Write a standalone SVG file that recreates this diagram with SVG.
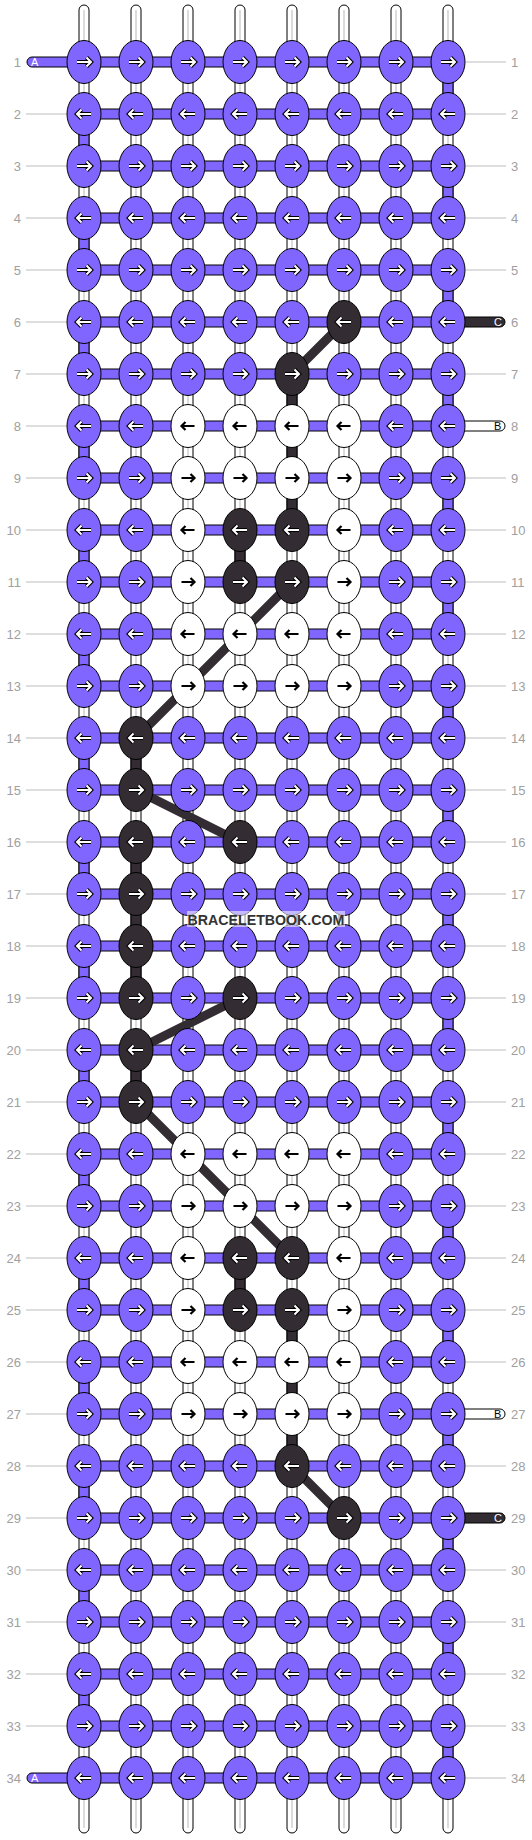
<svg xmlns="http://www.w3.org/2000/svg" xmlns:xlink="http://www.w3.org/1999/xlink" width="532" height="1840" viewBox="0 0 532 1840">
<style>
.s{fill:#fff;stroke:#000;stroke-width:1}
.g{stroke:#c4c4c4;stroke-width:1.2}
.vp{fill:#8066ff;stroke:#000}
.vd{fill:#332d33;stroke:#000}
.hl{fill:#8066ff;stroke:#000}
.p{fill:#8066ff;stroke:#000}
.d{fill:#332d33;stroke:#000}
.w{fill:#fff;stroke:#000}
.dg{stroke:#332d33;stroke-width:9;stroke-linecap:butt}
.ln{stroke:#bdbdbd;stroke-width:1}
.nl{font-family:"Liberation Sans",Arial,sans-serif;font-size:13px;fill:#a0a0a0;text-anchor:end}
.nr{font-family:"Liberation Sans",Arial,sans-serif;font-size:13px;fill:#a0a0a0}
.el{font-family:"Liberation Sans",Arial,sans-serif;font-size:11px}
</style>
<defs>
<ellipse id="k" cx="0" cy="0" rx="17" ry="21.5"/>
<g id="wr"><path d="M-7,0H6M2.5,-4.5L7,0L2.5,4.5" fill="none" stroke="#000" stroke-width="4.2"/><path d="M-7,0H6M2.5,-4.5L7,0L2.5,4.5" fill="none" stroke="#fff" stroke-width="2"/></g>
<g id="wl" transform="scale(-1,1)"><use href="#wr"/></g>
<g id="br"><path d="M-6.5,0H6M2.5,-4L6.5,0L2.5,4" fill="none" stroke="#000" stroke-width="2.2"/></g>
<g id="bl" transform="scale(-1,1)"><use href="#br"/></g>
</defs>
<rect width="532" height="1840" fill="#fff"/>
<g id="strands">
<rect class="s" x="79" y="5" width="10" height="1828" rx="5"/><line class="g" x1="84" y1="10" x2="84" y2="1828"/>
<rect class="s" x="131" y="5" width="10" height="1828" rx="5"/><line class="g" x1="136" y1="10" x2="136" y2="1828"/>
<rect class="s" x="183" y="5" width="10" height="1828" rx="5"/><line class="g" x1="188" y1="10" x2="188" y2="1828"/>
<rect class="s" x="235" y="5" width="10" height="1828" rx="5"/><line class="g" x1="240" y1="10" x2="240" y2="1828"/>
<rect class="s" x="287" y="5" width="10" height="1828" rx="5"/><line class="g" x1="292" y1="10" x2="292" y2="1828"/>
<rect class="s" x="339" y="5" width="10" height="1828" rx="5"/><line class="g" x1="344" y1="10" x2="344" y2="1828"/>
<rect class="s" x="391" y="5" width="10" height="1828" rx="5"/><line class="g" x1="396" y1="10" x2="396" y2="1828"/>
<rect class="s" x="443" y="5" width="10" height="1828" rx="5"/><line class="g" x1="448" y1="10" x2="448" y2="1828"/>
</g>
<g id="connectors">
<g id="vertical">
<rect class="vp" x="443" y="77" width="10" height="22"/>
<rect class="vp" x="79" y="129" width="10" height="22"/>
<rect class="vp" x="443" y="181" width="10" height="22"/>
<rect class="vp" x="79" y="233" width="10" height="22"/>
<rect class="vp" x="443" y="285" width="10" height="22"/>
<rect class="vp" x="79" y="337" width="10" height="22"/>
<rect class="vp" x="443" y="389" width="10" height="22"/>
<rect class="vp" x="79" y="441" width="10" height="22"/>
<rect class="vp" x="443" y="493" width="10" height="22"/>
<rect class="vp" x="79" y="545" width="10" height="22"/>
<rect class="vp" x="443" y="597" width="10" height="22"/>
<rect class="vp" x="79" y="649" width="10" height="22"/>
<rect class="vp" x="443" y="701" width="10" height="22"/>
<rect class="vp" x="79" y="753" width="10" height="22"/>
<rect class="vp" x="443" y="805" width="10" height="22"/>
<rect class="vp" x="79" y="857" width="10" height="22"/>
<rect class="vp" x="443" y="909" width="10" height="22"/>
<rect class="vp" x="79" y="961" width="10" height="22"/>
<rect class="vp" x="443" y="1013" width="10" height="22"/>
<rect class="vp" x="79" y="1065" width="10" height="22"/>
<rect class="vp" x="443" y="1117" width="10" height="22"/>
<rect class="vp" x="79" y="1169" width="10" height="22"/>
<rect class="vp" x="443" y="1221" width="10" height="22"/>
<rect class="vp" x="79" y="1273" width="10" height="22"/>
<rect class="vp" x="443" y="1325" width="10" height="22"/>
<rect class="vp" x="79" y="1377" width="10" height="22"/>
<rect class="vp" x="443" y="1429" width="10" height="22"/>
<rect class="vp" x="79" y="1481" width="10" height="22"/>
<rect class="vp" x="443" y="1533" width="10" height="22"/>
<rect class="vp" x="79" y="1585" width="10" height="22"/>
<rect class="vp" x="443" y="1637" width="10" height="22"/>
<rect class="vp" x="79" y="1689" width="10" height="22"/>
<rect class="vp" x="443" y="1741" width="10" height="22"/>
<rect class="vd" x="287" y="389" width="10" height="22"/>
<rect class="vd" x="287" y="441" width="10" height="22"/>
<rect class="vd" x="287" y="493" width="10" height="22"/>
<rect class="vd" x="235" y="545" width="10" height="22"/>
<rect class="vd" x="131" y="753" width="10" height="22"/>
<rect class="vd" x="131" y="857" width="10" height="22"/>
<rect class="vd" x="131" y="909" width="10" height="22"/>
<rect class="vd" x="131" y="961" width="10" height="22"/>
<rect class="vd" x="131" y="1065" width="10" height="22"/>
<rect class="vd" x="235" y="1273" width="10" height="22"/>
<rect class="vd" x="287" y="1325" width="10" height="22"/>
<rect class="vd" x="287" y="1377" width="10" height="22"/>
<rect class="vd" x="287" y="1429" width="10" height="22"/>
</g>
<g id="rows">
<rect class="hl" x="84" y="57" width="364" height="10"/>
<rect class="hl" x="84" y="109" width="364" height="10"/>
<rect class="hl" x="84" y="161" width="364" height="10"/>
<rect class="hl" x="84" y="213" width="364" height="10"/>
<rect class="hl" x="84" y="265" width="364" height="10"/>
<rect class="hl" x="84" y="317" width="364" height="10"/>
<rect class="hl" x="84" y="369" width="364" height="10"/>
<rect class="hl" x="84" y="421" width="364" height="10"/>
<rect class="hl" x="84" y="473" width="364" height="10"/>
<rect class="hl" x="84" y="525" width="364" height="10"/>
<rect class="hl" x="84" y="577" width="364" height="10"/>
<rect class="hl" x="84" y="629" width="364" height="10"/>
<rect class="hl" x="84" y="681" width="364" height="10"/>
<rect class="hl" x="84" y="733" width="364" height="10"/>
<rect class="hl" x="84" y="785" width="364" height="10"/>
<rect class="hl" x="84" y="837" width="364" height="10"/>
<rect class="hl" x="84" y="889" width="364" height="10"/>
<rect class="hl" x="84" y="941" width="364" height="10"/>
<rect class="hl" x="84" y="993" width="364" height="10"/>
<rect class="hl" x="84" y="1045" width="364" height="10"/>
<rect class="hl" x="84" y="1097" width="364" height="10"/>
<rect class="hl" x="84" y="1149" width="364" height="10"/>
<rect class="hl" x="84" y="1201" width="364" height="10"/>
<rect class="hl" x="84" y="1253" width="364" height="10"/>
<rect class="hl" x="84" y="1305" width="364" height="10"/>
<rect class="hl" x="84" y="1357" width="364" height="10"/>
<rect class="hl" x="84" y="1409" width="364" height="10"/>
<rect class="hl" x="84" y="1461" width="364" height="10"/>
<rect class="hl" x="84" y="1513" width="364" height="10"/>
<rect class="hl" x="84" y="1565" width="364" height="10"/>
<rect class="hl" x="84" y="1617" width="364" height="10"/>
<rect class="hl" x="84" y="1669" width="364" height="10"/>
<rect class="hl" x="84" y="1721" width="364" height="10"/>
<rect class="hl" x="84" y="1773" width="364" height="10"/>
</g>
<g id="labellines">
<line class="ln" x1="466" y1="62" x2="506" y2="62"/>
<line class="ln" x1="26" y1="114" x2="67" y2="114"/><line class="ln" x1="466" y1="114" x2="506" y2="114"/>
<line class="ln" x1="26" y1="166" x2="67" y2="166"/><line class="ln" x1="466" y1="166" x2="506" y2="166"/>
<line class="ln" x1="26" y1="218" x2="67" y2="218"/><line class="ln" x1="466" y1="218" x2="506" y2="218"/>
<line class="ln" x1="26" y1="270" x2="67" y2="270"/><line class="ln" x1="466" y1="270" x2="506" y2="270"/>
<line class="ln" x1="26" y1="322" x2="67" y2="322"/>
<line class="ln" x1="26" y1="374" x2="67" y2="374"/><line class="ln" x1="466" y1="374" x2="506" y2="374"/>
<line class="ln" x1="26" y1="426" x2="67" y2="426"/>
<line class="ln" x1="26" y1="478" x2="67" y2="478"/><line class="ln" x1="466" y1="478" x2="506" y2="478"/>
<line class="ln" x1="26" y1="530" x2="67" y2="530"/><line class="ln" x1="466" y1="530" x2="506" y2="530"/>
<line class="ln" x1="26" y1="582" x2="67" y2="582"/><line class="ln" x1="466" y1="582" x2="506" y2="582"/>
<line class="ln" x1="26" y1="634" x2="67" y2="634"/><line class="ln" x1="466" y1="634" x2="506" y2="634"/>
<line class="ln" x1="26" y1="686" x2="67" y2="686"/><line class="ln" x1="466" y1="686" x2="506" y2="686"/>
<line class="ln" x1="26" y1="738" x2="67" y2="738"/><line class="ln" x1="466" y1="738" x2="506" y2="738"/>
<line class="ln" x1="26" y1="790" x2="67" y2="790"/><line class="ln" x1="466" y1="790" x2="506" y2="790"/>
<line class="ln" x1="26" y1="842" x2="67" y2="842"/><line class="ln" x1="466" y1="842" x2="506" y2="842"/>
<line class="ln" x1="26" y1="894" x2="67" y2="894"/><line class="ln" x1="466" y1="894" x2="506" y2="894"/>
<line class="ln" x1="26" y1="946" x2="67" y2="946"/><line class="ln" x1="466" y1="946" x2="506" y2="946"/>
<line class="ln" x1="26" y1="998" x2="67" y2="998"/><line class="ln" x1="466" y1="998" x2="506" y2="998"/>
<line class="ln" x1="26" y1="1050" x2="67" y2="1050"/><line class="ln" x1="466" y1="1050" x2="506" y2="1050"/>
<line class="ln" x1="26" y1="1102" x2="67" y2="1102"/><line class="ln" x1="466" y1="1102" x2="506" y2="1102"/>
<line class="ln" x1="26" y1="1154" x2="67" y2="1154"/><line class="ln" x1="466" y1="1154" x2="506" y2="1154"/>
<line class="ln" x1="26" y1="1206" x2="67" y2="1206"/><line class="ln" x1="466" y1="1206" x2="506" y2="1206"/>
<line class="ln" x1="26" y1="1258" x2="67" y2="1258"/><line class="ln" x1="466" y1="1258" x2="506" y2="1258"/>
<line class="ln" x1="26" y1="1310" x2="67" y2="1310"/><line class="ln" x1="466" y1="1310" x2="506" y2="1310"/>
<line class="ln" x1="26" y1="1362" x2="67" y2="1362"/><line class="ln" x1="466" y1="1362" x2="506" y2="1362"/>
<line class="ln" x1="26" y1="1414" x2="67" y2="1414"/>
<line class="ln" x1="26" y1="1466" x2="67" y2="1466"/><line class="ln" x1="466" y1="1466" x2="506" y2="1466"/>
<line class="ln" x1="26" y1="1518" x2="67" y2="1518"/>
<line class="ln" x1="26" y1="1570" x2="67" y2="1570"/><line class="ln" x1="466" y1="1570" x2="506" y2="1570"/>
<line class="ln" x1="26" y1="1622" x2="67" y2="1622"/><line class="ln" x1="466" y1="1622" x2="506" y2="1622"/>
<line class="ln" x1="26" y1="1674" x2="67" y2="1674"/><line class="ln" x1="466" y1="1674" x2="506" y2="1674"/>
<line class="ln" x1="26" y1="1726" x2="67" y2="1726"/><line class="ln" x1="466" y1="1726" x2="506" y2="1726"/>
<line class="ln" x1="466" y1="1778" x2="506" y2="1778"/>
</g>
<g id="ends">
<path d="M70,57H32A5,5 0 0 0 32,67H70Z" fill="#8066ff" stroke="#000"/><text class="el" x="31" y="66" fill="#fff">A</text>
<path d="M70,1773H32A5,5 0 0 0 32,1783H70Z" fill="#8066ff" stroke="#000"/><text class="el" x="31" y="1782" fill="#fff">A</text>
<path d="M462,317H500A5,5 0 0 1 500,327H462Z" fill="#332d33" stroke="#000"/><text class="el" x="494" y="326" fill="#fff">C</text>
<path d="M462,421H500A5,5 0 0 1 500,431H462Z" fill="#fff" stroke="#000"/><text class="el" x="494" y="430" fill="#000">B</text>
<path d="M462,1409H500A5,5 0 0 1 500,1419H462Z" fill="#fff" stroke="#000"/><text class="el" x="494" y="1418" fill="#000">B</text>
<path d="M462,1513H500A5,5 0 0 1 500,1523H462Z" fill="#332d33" stroke="#000"/><text class="el" x="494" y="1522" fill="#fff">C</text>
</g>
<g id="diagonals">
<line class="dg" x1="344" y1="322" x2="292" y2="374"/>
<line class="dg" x1="292" y1="582" x2="136" y2="738"/>
<line class="dg" x1="136" y1="790" x2="240" y2="842"/>
<line class="dg" x1="240" y1="998" x2="136" y2="1050"/>
<line class="dg" x1="136" y1="1102" x2="292" y2="1258"/>
<line class="dg" x1="292" y1="1466" x2="344" y2="1518"/>
</g>
</g>
<g id="knots">
<g id="r1c1"><use href="#k" class="p" x="84" y="62"/><use href="#wr" x="84" y="62"/></g>
<g id="r1c2"><use href="#k" class="p" x="136" y="62"/><use href="#wr" x="136" y="62"/></g>
<g id="r1c3"><use href="#k" class="p" x="188" y="62"/><use href="#wr" x="188" y="62"/></g>
<g id="r1c4"><use href="#k" class="p" x="240" y="62"/><use href="#wr" x="240" y="62"/></g>
<g id="r1c5"><use href="#k" class="p" x="292" y="62"/><use href="#wr" x="292" y="62"/></g>
<g id="r1c6"><use href="#k" class="p" x="344" y="62"/><use href="#wr" x="344" y="62"/></g>
<g id="r1c7"><use href="#k" class="p" x="396" y="62"/><use href="#wr" x="396" y="62"/></g>
<g id="r1c8"><use href="#k" class="p" x="448" y="62"/><use href="#wr" x="448" y="62"/></g>
<g id="r2c1"><use href="#k" class="p" x="84" y="114"/><use href="#wl" x="84" y="114"/></g>
<g id="r2c2"><use href="#k" class="p" x="136" y="114"/><use href="#wl" x="136" y="114"/></g>
<g id="r2c3"><use href="#k" class="p" x="188" y="114"/><use href="#wl" x="188" y="114"/></g>
<g id="r2c4"><use href="#k" class="p" x="240" y="114"/><use href="#wl" x="240" y="114"/></g>
<g id="r2c5"><use href="#k" class="p" x="292" y="114"/><use href="#wl" x="292" y="114"/></g>
<g id="r2c6"><use href="#k" class="p" x="344" y="114"/><use href="#wl" x="344" y="114"/></g>
<g id="r2c7"><use href="#k" class="p" x="396" y="114"/><use href="#wl" x="396" y="114"/></g>
<g id="r2c8"><use href="#k" class="p" x="448" y="114"/><use href="#wl" x="448" y="114"/></g>
<g id="r3c1"><use href="#k" class="p" x="84" y="166"/><use href="#wr" x="84" y="166"/></g>
<g id="r3c2"><use href="#k" class="p" x="136" y="166"/><use href="#wr" x="136" y="166"/></g>
<g id="r3c3"><use href="#k" class="p" x="188" y="166"/><use href="#wr" x="188" y="166"/></g>
<g id="r3c4"><use href="#k" class="p" x="240" y="166"/><use href="#wr" x="240" y="166"/></g>
<g id="r3c5"><use href="#k" class="p" x="292" y="166"/><use href="#wr" x="292" y="166"/></g>
<g id="r3c6"><use href="#k" class="p" x="344" y="166"/><use href="#wr" x="344" y="166"/></g>
<g id="r3c7"><use href="#k" class="p" x="396" y="166"/><use href="#wr" x="396" y="166"/></g>
<g id="r3c8"><use href="#k" class="p" x="448" y="166"/><use href="#wr" x="448" y="166"/></g>
<g id="r4c1"><use href="#k" class="p" x="84" y="218"/><use href="#wl" x="84" y="218"/></g>
<g id="r4c2"><use href="#k" class="p" x="136" y="218"/><use href="#wl" x="136" y="218"/></g>
<g id="r4c3"><use href="#k" class="p" x="188" y="218"/><use href="#wl" x="188" y="218"/></g>
<g id="r4c4"><use href="#k" class="p" x="240" y="218"/><use href="#wl" x="240" y="218"/></g>
<g id="r4c5"><use href="#k" class="p" x="292" y="218"/><use href="#wl" x="292" y="218"/></g>
<g id="r4c6"><use href="#k" class="p" x="344" y="218"/><use href="#wl" x="344" y="218"/></g>
<g id="r4c7"><use href="#k" class="p" x="396" y="218"/><use href="#wl" x="396" y="218"/></g>
<g id="r4c8"><use href="#k" class="p" x="448" y="218"/><use href="#wl" x="448" y="218"/></g>
<g id="r5c1"><use href="#k" class="p" x="84" y="270"/><use href="#wr" x="84" y="270"/></g>
<g id="r5c2"><use href="#k" class="p" x="136" y="270"/><use href="#wr" x="136" y="270"/></g>
<g id="r5c3"><use href="#k" class="p" x="188" y="270"/><use href="#wr" x="188" y="270"/></g>
<g id="r5c4"><use href="#k" class="p" x="240" y="270"/><use href="#wr" x="240" y="270"/></g>
<g id="r5c5"><use href="#k" class="p" x="292" y="270"/><use href="#wr" x="292" y="270"/></g>
<g id="r5c6"><use href="#k" class="p" x="344" y="270"/><use href="#wr" x="344" y="270"/></g>
<g id="r5c7"><use href="#k" class="p" x="396" y="270"/><use href="#wr" x="396" y="270"/></g>
<g id="r5c8"><use href="#k" class="p" x="448" y="270"/><use href="#wr" x="448" y="270"/></g>
<g id="r6c1"><use href="#k" class="p" x="84" y="322"/><use href="#wl" x="84" y="322"/></g>
<g id="r6c2"><use href="#k" class="p" x="136" y="322"/><use href="#wl" x="136" y="322"/></g>
<g id="r6c3"><use href="#k" class="p" x="188" y="322"/><use href="#wl" x="188" y="322"/></g>
<g id="r6c4"><use href="#k" class="p" x="240" y="322"/><use href="#wl" x="240" y="322"/></g>
<g id="r6c5"><use href="#k" class="p" x="292" y="322"/><use href="#wl" x="292" y="322"/></g>
<g id="r6c6"><use href="#k" class="d" x="344" y="322"/><use href="#wl" x="344" y="322"/></g>
<g id="r6c7"><use href="#k" class="p" x="396" y="322"/><use href="#wl" x="396" y="322"/></g>
<g id="r6c8"><use href="#k" class="p" x="448" y="322"/><use href="#wl" x="448" y="322"/></g>
<g id="r7c1"><use href="#k" class="p" x="84" y="374"/><use href="#wr" x="84" y="374"/></g>
<g id="r7c2"><use href="#k" class="p" x="136" y="374"/><use href="#wr" x="136" y="374"/></g>
<g id="r7c3"><use href="#k" class="p" x="188" y="374"/><use href="#wr" x="188" y="374"/></g>
<g id="r7c4"><use href="#k" class="p" x="240" y="374"/><use href="#wr" x="240" y="374"/></g>
<g id="r7c5"><use href="#k" class="d" x="292" y="374"/><use href="#wr" x="292" y="374"/></g>
<g id="r7c6"><use href="#k" class="p" x="344" y="374"/><use href="#wr" x="344" y="374"/></g>
<g id="r7c7"><use href="#k" class="p" x="396" y="374"/><use href="#wr" x="396" y="374"/></g>
<g id="r7c8"><use href="#k" class="p" x="448" y="374"/><use href="#wr" x="448" y="374"/></g>
<g id="r8c1"><use href="#k" class="p" x="84" y="426"/><use href="#wl" x="84" y="426"/></g>
<g id="r8c2"><use href="#k" class="p" x="136" y="426"/><use href="#wl" x="136" y="426"/></g>
<g id="r8c3"><use href="#k" class="w" x="188" y="426"/><use href="#bl" x="188" y="426"/></g>
<g id="r8c4"><use href="#k" class="w" x="240" y="426"/><use href="#bl" x="240" y="426"/></g>
<g id="r8c5"><use href="#k" class="w" x="292" y="426"/><use href="#bl" x="292" y="426"/></g>
<g id="r8c6"><use href="#k" class="w" x="344" y="426"/><use href="#bl" x="344" y="426"/></g>
<g id="r8c7"><use href="#k" class="p" x="396" y="426"/><use href="#wl" x="396" y="426"/></g>
<g id="r8c8"><use href="#k" class="p" x="448" y="426"/><use href="#wl" x="448" y="426"/></g>
<g id="r9c1"><use href="#k" class="p" x="84" y="478"/><use href="#wr" x="84" y="478"/></g>
<g id="r9c2"><use href="#k" class="p" x="136" y="478"/><use href="#wr" x="136" y="478"/></g>
<g id="r9c3"><use href="#k" class="w" x="188" y="478"/><use href="#br" x="188" y="478"/></g>
<g id="r9c4"><use href="#k" class="w" x="240" y="478"/><use href="#br" x="240" y="478"/></g>
<g id="r9c5"><use href="#k" class="w" x="292" y="478"/><use href="#br" x="292" y="478"/></g>
<g id="r9c6"><use href="#k" class="w" x="344" y="478"/><use href="#br" x="344" y="478"/></g>
<g id="r9c7"><use href="#k" class="p" x="396" y="478"/><use href="#wr" x="396" y="478"/></g>
<g id="r9c8"><use href="#k" class="p" x="448" y="478"/><use href="#wr" x="448" y="478"/></g>
<g id="r10c1"><use href="#k" class="p" x="84" y="530"/><use href="#wl" x="84" y="530"/></g>
<g id="r10c2"><use href="#k" class="p" x="136" y="530"/><use href="#wl" x="136" y="530"/></g>
<g id="r10c3"><use href="#k" class="w" x="188" y="530"/><use href="#bl" x="188" y="530"/></g>
<g id="r10c4"><use href="#k" class="d" x="240" y="530"/><use href="#wl" x="240" y="530"/></g>
<g id="r10c5"><use href="#k" class="d" x="292" y="530"/><use href="#wl" x="292" y="530"/></g>
<g id="r10c6"><use href="#k" class="w" x="344" y="530"/><use href="#bl" x="344" y="530"/></g>
<g id="r10c7"><use href="#k" class="p" x="396" y="530"/><use href="#wl" x="396" y="530"/></g>
<g id="r10c8"><use href="#k" class="p" x="448" y="530"/><use href="#wl" x="448" y="530"/></g>
<g id="r11c1"><use href="#k" class="p" x="84" y="582"/><use href="#wr" x="84" y="582"/></g>
<g id="r11c2"><use href="#k" class="p" x="136" y="582"/><use href="#wr" x="136" y="582"/></g>
<g id="r11c3"><use href="#k" class="w" x="188" y="582"/><use href="#br" x="188" y="582"/></g>
<g id="r11c4"><use href="#k" class="d" x="240" y="582"/><use href="#wr" x="240" y="582"/></g>
<g id="r11c5"><use href="#k" class="d" x="292" y="582"/><use href="#wr" x="292" y="582"/></g>
<g id="r11c6"><use href="#k" class="w" x="344" y="582"/><use href="#br" x="344" y="582"/></g>
<g id="r11c7"><use href="#k" class="p" x="396" y="582"/><use href="#wr" x="396" y="582"/></g>
<g id="r11c8"><use href="#k" class="p" x="448" y="582"/><use href="#wr" x="448" y="582"/></g>
<g id="r12c1"><use href="#k" class="p" x="84" y="634"/><use href="#wl" x="84" y="634"/></g>
<g id="r12c2"><use href="#k" class="p" x="136" y="634"/><use href="#wl" x="136" y="634"/></g>
<g id="r12c3"><use href="#k" class="w" x="188" y="634"/><use href="#bl" x="188" y="634"/></g>
<g id="r12c4"><use href="#k" class="w" x="240" y="634"/><use href="#bl" x="240" y="634"/></g>
<g id="r12c5"><use href="#k" class="w" x="292" y="634"/><use href="#bl" x="292" y="634"/></g>
<g id="r12c6"><use href="#k" class="w" x="344" y="634"/><use href="#bl" x="344" y="634"/></g>
<g id="r12c7"><use href="#k" class="p" x="396" y="634"/><use href="#wl" x="396" y="634"/></g>
<g id="r12c8"><use href="#k" class="p" x="448" y="634"/><use href="#wl" x="448" y="634"/></g>
<g id="r13c1"><use href="#k" class="p" x="84" y="686"/><use href="#wr" x="84" y="686"/></g>
<g id="r13c2"><use href="#k" class="p" x="136" y="686"/><use href="#wr" x="136" y="686"/></g>
<g id="r13c3"><use href="#k" class="w" x="188" y="686"/><use href="#br" x="188" y="686"/></g>
<g id="r13c4"><use href="#k" class="w" x="240" y="686"/><use href="#br" x="240" y="686"/></g>
<g id="r13c5"><use href="#k" class="w" x="292" y="686"/><use href="#br" x="292" y="686"/></g>
<g id="r13c6"><use href="#k" class="w" x="344" y="686"/><use href="#br" x="344" y="686"/></g>
<g id="r13c7"><use href="#k" class="p" x="396" y="686"/><use href="#wr" x="396" y="686"/></g>
<g id="r13c8"><use href="#k" class="p" x="448" y="686"/><use href="#wr" x="448" y="686"/></g>
<g id="r14c1"><use href="#k" class="p" x="84" y="738"/><use href="#wl" x="84" y="738"/></g>
<g id="r14c2"><use href="#k" class="d" x="136" y="738"/><use href="#wl" x="136" y="738"/></g>
<g id="r14c3"><use href="#k" class="p" x="188" y="738"/><use href="#wl" x="188" y="738"/></g>
<g id="r14c4"><use href="#k" class="p" x="240" y="738"/><use href="#wl" x="240" y="738"/></g>
<g id="r14c5"><use href="#k" class="p" x="292" y="738"/><use href="#wl" x="292" y="738"/></g>
<g id="r14c6"><use href="#k" class="p" x="344" y="738"/><use href="#wl" x="344" y="738"/></g>
<g id="r14c7"><use href="#k" class="p" x="396" y="738"/><use href="#wl" x="396" y="738"/></g>
<g id="r14c8"><use href="#k" class="p" x="448" y="738"/><use href="#wl" x="448" y="738"/></g>
<g id="r15c1"><use href="#k" class="p" x="84" y="790"/><use href="#wr" x="84" y="790"/></g>
<g id="r15c2"><use href="#k" class="d" x="136" y="790"/><use href="#wr" x="136" y="790"/></g>
<g id="r15c3"><use href="#k" class="p" x="188" y="790"/><use href="#wr" x="188" y="790"/></g>
<g id="r15c4"><use href="#k" class="p" x="240" y="790"/><use href="#wr" x="240" y="790"/></g>
<g id="r15c5"><use href="#k" class="p" x="292" y="790"/><use href="#wr" x="292" y="790"/></g>
<g id="r15c6"><use href="#k" class="p" x="344" y="790"/><use href="#wr" x="344" y="790"/></g>
<g id="r15c7"><use href="#k" class="p" x="396" y="790"/><use href="#wr" x="396" y="790"/></g>
<g id="r15c8"><use href="#k" class="p" x="448" y="790"/><use href="#wr" x="448" y="790"/></g>
<g id="r16c1"><use href="#k" class="p" x="84" y="842"/><use href="#wl" x="84" y="842"/></g>
<g id="r16c2"><use href="#k" class="d" x="136" y="842"/><use href="#wl" x="136" y="842"/></g>
<g id="r16c3"><use href="#k" class="p" x="188" y="842"/><use href="#wl" x="188" y="842"/></g>
<g id="r16c4"><use href="#k" class="d" x="240" y="842"/><use href="#wl" x="240" y="842"/></g>
<g id="r16c5"><use href="#k" class="p" x="292" y="842"/><use href="#wl" x="292" y="842"/></g>
<g id="r16c6"><use href="#k" class="p" x="344" y="842"/><use href="#wl" x="344" y="842"/></g>
<g id="r16c7"><use href="#k" class="p" x="396" y="842"/><use href="#wl" x="396" y="842"/></g>
<g id="r16c8"><use href="#k" class="p" x="448" y="842"/><use href="#wl" x="448" y="842"/></g>
<g id="r17c1"><use href="#k" class="p" x="84" y="894"/><use href="#wr" x="84" y="894"/></g>
<g id="r17c2"><use href="#k" class="d" x="136" y="894"/><use href="#wr" x="136" y="894"/></g>
<g id="r17c3"><use href="#k" class="p" x="188" y="894"/><use href="#wr" x="188" y="894"/></g>
<g id="r17c4"><use href="#k" class="p" x="240" y="894"/><use href="#wr" x="240" y="894"/></g>
<g id="r17c5"><use href="#k" class="p" x="292" y="894"/><use href="#wr" x="292" y="894"/></g>
<g id="r17c6"><use href="#k" class="p" x="344" y="894"/><use href="#wr" x="344" y="894"/></g>
<g id="r17c7"><use href="#k" class="p" x="396" y="894"/><use href="#wr" x="396" y="894"/></g>
<g id="r17c8"><use href="#k" class="p" x="448" y="894"/><use href="#wr" x="448" y="894"/></g>
<g id="r18c1"><use href="#k" class="p" x="84" y="946"/><use href="#wl" x="84" y="946"/></g>
<g id="r18c2"><use href="#k" class="d" x="136" y="946"/><use href="#wl" x="136" y="946"/></g>
<g id="r18c3"><use href="#k" class="p" x="188" y="946"/><use href="#wl" x="188" y="946"/></g>
<g id="r18c4"><use href="#k" class="p" x="240" y="946"/><use href="#wl" x="240" y="946"/></g>
<g id="r18c5"><use href="#k" class="p" x="292" y="946"/><use href="#wl" x="292" y="946"/></g>
<g id="r18c6"><use href="#k" class="p" x="344" y="946"/><use href="#wl" x="344" y="946"/></g>
<g id="r18c7"><use href="#k" class="p" x="396" y="946"/><use href="#wl" x="396" y="946"/></g>
<g id="r18c8"><use href="#k" class="p" x="448" y="946"/><use href="#wl" x="448" y="946"/></g>
<g id="r19c1"><use href="#k" class="p" x="84" y="998"/><use href="#wr" x="84" y="998"/></g>
<g id="r19c2"><use href="#k" class="d" x="136" y="998"/><use href="#wr" x="136" y="998"/></g>
<g id="r19c3"><use href="#k" class="p" x="188" y="998"/><use href="#wr" x="188" y="998"/></g>
<g id="r19c4"><use href="#k" class="d" x="240" y="998"/><use href="#wr" x="240" y="998"/></g>
<g id="r19c5"><use href="#k" class="p" x="292" y="998"/><use href="#wr" x="292" y="998"/></g>
<g id="r19c6"><use href="#k" class="p" x="344" y="998"/><use href="#wr" x="344" y="998"/></g>
<g id="r19c7"><use href="#k" class="p" x="396" y="998"/><use href="#wr" x="396" y="998"/></g>
<g id="r19c8"><use href="#k" class="p" x="448" y="998"/><use href="#wr" x="448" y="998"/></g>
<g id="r20c1"><use href="#k" class="p" x="84" y="1050"/><use href="#wl" x="84" y="1050"/></g>
<g id="r20c2"><use href="#k" class="d" x="136" y="1050"/><use href="#wl" x="136" y="1050"/></g>
<g id="r20c3"><use href="#k" class="p" x="188" y="1050"/><use href="#wl" x="188" y="1050"/></g>
<g id="r20c4"><use href="#k" class="p" x="240" y="1050"/><use href="#wl" x="240" y="1050"/></g>
<g id="r20c5"><use href="#k" class="p" x="292" y="1050"/><use href="#wl" x="292" y="1050"/></g>
<g id="r20c6"><use href="#k" class="p" x="344" y="1050"/><use href="#wl" x="344" y="1050"/></g>
<g id="r20c7"><use href="#k" class="p" x="396" y="1050"/><use href="#wl" x="396" y="1050"/></g>
<g id="r20c8"><use href="#k" class="p" x="448" y="1050"/><use href="#wl" x="448" y="1050"/></g>
<g id="r21c1"><use href="#k" class="p" x="84" y="1102"/><use href="#wr" x="84" y="1102"/></g>
<g id="r21c2"><use href="#k" class="d" x="136" y="1102"/><use href="#wr" x="136" y="1102"/></g>
<g id="r21c3"><use href="#k" class="p" x="188" y="1102"/><use href="#wr" x="188" y="1102"/></g>
<g id="r21c4"><use href="#k" class="p" x="240" y="1102"/><use href="#wr" x="240" y="1102"/></g>
<g id="r21c5"><use href="#k" class="p" x="292" y="1102"/><use href="#wr" x="292" y="1102"/></g>
<g id="r21c6"><use href="#k" class="p" x="344" y="1102"/><use href="#wr" x="344" y="1102"/></g>
<g id="r21c7"><use href="#k" class="p" x="396" y="1102"/><use href="#wr" x="396" y="1102"/></g>
<g id="r21c8"><use href="#k" class="p" x="448" y="1102"/><use href="#wr" x="448" y="1102"/></g>
<g id="r22c1"><use href="#k" class="p" x="84" y="1154"/><use href="#wl" x="84" y="1154"/></g>
<g id="r22c2"><use href="#k" class="p" x="136" y="1154"/><use href="#wl" x="136" y="1154"/></g>
<g id="r22c3"><use href="#k" class="w" x="188" y="1154"/><use href="#bl" x="188" y="1154"/></g>
<g id="r22c4"><use href="#k" class="w" x="240" y="1154"/><use href="#bl" x="240" y="1154"/></g>
<g id="r22c5"><use href="#k" class="w" x="292" y="1154"/><use href="#bl" x="292" y="1154"/></g>
<g id="r22c6"><use href="#k" class="w" x="344" y="1154"/><use href="#bl" x="344" y="1154"/></g>
<g id="r22c7"><use href="#k" class="p" x="396" y="1154"/><use href="#wl" x="396" y="1154"/></g>
<g id="r22c8"><use href="#k" class="p" x="448" y="1154"/><use href="#wl" x="448" y="1154"/></g>
<g id="r23c1"><use href="#k" class="p" x="84" y="1206"/><use href="#wr" x="84" y="1206"/></g>
<g id="r23c2"><use href="#k" class="p" x="136" y="1206"/><use href="#wr" x="136" y="1206"/></g>
<g id="r23c3"><use href="#k" class="w" x="188" y="1206"/><use href="#br" x="188" y="1206"/></g>
<g id="r23c4"><use href="#k" class="w" x="240" y="1206"/><use href="#br" x="240" y="1206"/></g>
<g id="r23c5"><use href="#k" class="w" x="292" y="1206"/><use href="#br" x="292" y="1206"/></g>
<g id="r23c6"><use href="#k" class="w" x="344" y="1206"/><use href="#br" x="344" y="1206"/></g>
<g id="r23c7"><use href="#k" class="p" x="396" y="1206"/><use href="#wr" x="396" y="1206"/></g>
<g id="r23c8"><use href="#k" class="p" x="448" y="1206"/><use href="#wr" x="448" y="1206"/></g>
<g id="r24c1"><use href="#k" class="p" x="84" y="1258"/><use href="#wl" x="84" y="1258"/></g>
<g id="r24c2"><use href="#k" class="p" x="136" y="1258"/><use href="#wl" x="136" y="1258"/></g>
<g id="r24c3"><use href="#k" class="w" x="188" y="1258"/><use href="#bl" x="188" y="1258"/></g>
<g id="r24c4"><use href="#k" class="d" x="240" y="1258"/><use href="#wl" x="240" y="1258"/></g>
<g id="r24c5"><use href="#k" class="d" x="292" y="1258"/><use href="#wl" x="292" y="1258"/></g>
<g id="r24c6"><use href="#k" class="w" x="344" y="1258"/><use href="#bl" x="344" y="1258"/></g>
<g id="r24c7"><use href="#k" class="p" x="396" y="1258"/><use href="#wl" x="396" y="1258"/></g>
<g id="r24c8"><use href="#k" class="p" x="448" y="1258"/><use href="#wl" x="448" y="1258"/></g>
<g id="r25c1"><use href="#k" class="p" x="84" y="1310"/><use href="#wr" x="84" y="1310"/></g>
<g id="r25c2"><use href="#k" class="p" x="136" y="1310"/><use href="#wr" x="136" y="1310"/></g>
<g id="r25c3"><use href="#k" class="w" x="188" y="1310"/><use href="#br" x="188" y="1310"/></g>
<g id="r25c4"><use href="#k" class="d" x="240" y="1310"/><use href="#wr" x="240" y="1310"/></g>
<g id="r25c5"><use href="#k" class="d" x="292" y="1310"/><use href="#wr" x="292" y="1310"/></g>
<g id="r25c6"><use href="#k" class="w" x="344" y="1310"/><use href="#br" x="344" y="1310"/></g>
<g id="r25c7"><use href="#k" class="p" x="396" y="1310"/><use href="#wr" x="396" y="1310"/></g>
<g id="r25c8"><use href="#k" class="p" x="448" y="1310"/><use href="#wr" x="448" y="1310"/></g>
<g id="r26c1"><use href="#k" class="p" x="84" y="1362"/><use href="#wl" x="84" y="1362"/></g>
<g id="r26c2"><use href="#k" class="p" x="136" y="1362"/><use href="#wl" x="136" y="1362"/></g>
<g id="r26c3"><use href="#k" class="w" x="188" y="1362"/><use href="#bl" x="188" y="1362"/></g>
<g id="r26c4"><use href="#k" class="w" x="240" y="1362"/><use href="#bl" x="240" y="1362"/></g>
<g id="r26c5"><use href="#k" class="w" x="292" y="1362"/><use href="#bl" x="292" y="1362"/></g>
<g id="r26c6"><use href="#k" class="w" x="344" y="1362"/><use href="#bl" x="344" y="1362"/></g>
<g id="r26c7"><use href="#k" class="p" x="396" y="1362"/><use href="#wl" x="396" y="1362"/></g>
<g id="r26c8"><use href="#k" class="p" x="448" y="1362"/><use href="#wl" x="448" y="1362"/></g>
<g id="r27c1"><use href="#k" class="p" x="84" y="1414"/><use href="#wr" x="84" y="1414"/></g>
<g id="r27c2"><use href="#k" class="p" x="136" y="1414"/><use href="#wr" x="136" y="1414"/></g>
<g id="r27c3"><use href="#k" class="w" x="188" y="1414"/><use href="#br" x="188" y="1414"/></g>
<g id="r27c4"><use href="#k" class="w" x="240" y="1414"/><use href="#br" x="240" y="1414"/></g>
<g id="r27c5"><use href="#k" class="w" x="292" y="1414"/><use href="#br" x="292" y="1414"/></g>
<g id="r27c6"><use href="#k" class="w" x="344" y="1414"/><use href="#br" x="344" y="1414"/></g>
<g id="r27c7"><use href="#k" class="p" x="396" y="1414"/><use href="#wr" x="396" y="1414"/></g>
<g id="r27c8"><use href="#k" class="p" x="448" y="1414"/><use href="#wr" x="448" y="1414"/></g>
<g id="r28c1"><use href="#k" class="p" x="84" y="1466"/><use href="#wl" x="84" y="1466"/></g>
<g id="r28c2"><use href="#k" class="p" x="136" y="1466"/><use href="#wl" x="136" y="1466"/></g>
<g id="r28c3"><use href="#k" class="p" x="188" y="1466"/><use href="#wl" x="188" y="1466"/></g>
<g id="r28c4"><use href="#k" class="p" x="240" y="1466"/><use href="#wl" x="240" y="1466"/></g>
<g id="r28c5"><use href="#k" class="d" x="292" y="1466"/><use href="#wl" x="292" y="1466"/></g>
<g id="r28c6"><use href="#k" class="p" x="344" y="1466"/><use href="#wl" x="344" y="1466"/></g>
<g id="r28c7"><use href="#k" class="p" x="396" y="1466"/><use href="#wl" x="396" y="1466"/></g>
<g id="r28c8"><use href="#k" class="p" x="448" y="1466"/><use href="#wl" x="448" y="1466"/></g>
<g id="r29c1"><use href="#k" class="p" x="84" y="1518"/><use href="#wr" x="84" y="1518"/></g>
<g id="r29c2"><use href="#k" class="p" x="136" y="1518"/><use href="#wr" x="136" y="1518"/></g>
<g id="r29c3"><use href="#k" class="p" x="188" y="1518"/><use href="#wr" x="188" y="1518"/></g>
<g id="r29c4"><use href="#k" class="p" x="240" y="1518"/><use href="#wr" x="240" y="1518"/></g>
<g id="r29c5"><use href="#k" class="p" x="292" y="1518"/><use href="#wr" x="292" y="1518"/></g>
<g id="r29c6"><use href="#k" class="d" x="344" y="1518"/><use href="#wr" x="344" y="1518"/></g>
<g id="r29c7"><use href="#k" class="p" x="396" y="1518"/><use href="#wr" x="396" y="1518"/></g>
<g id="r29c8"><use href="#k" class="p" x="448" y="1518"/><use href="#wr" x="448" y="1518"/></g>
<g id="r30c1"><use href="#k" class="p" x="84" y="1570"/><use href="#wl" x="84" y="1570"/></g>
<g id="r30c2"><use href="#k" class="p" x="136" y="1570"/><use href="#wl" x="136" y="1570"/></g>
<g id="r30c3"><use href="#k" class="p" x="188" y="1570"/><use href="#wl" x="188" y="1570"/></g>
<g id="r30c4"><use href="#k" class="p" x="240" y="1570"/><use href="#wl" x="240" y="1570"/></g>
<g id="r30c5"><use href="#k" class="p" x="292" y="1570"/><use href="#wl" x="292" y="1570"/></g>
<g id="r30c6"><use href="#k" class="p" x="344" y="1570"/><use href="#wl" x="344" y="1570"/></g>
<g id="r30c7"><use href="#k" class="p" x="396" y="1570"/><use href="#wl" x="396" y="1570"/></g>
<g id="r30c8"><use href="#k" class="p" x="448" y="1570"/><use href="#wl" x="448" y="1570"/></g>
<g id="r31c1"><use href="#k" class="p" x="84" y="1622"/><use href="#wr" x="84" y="1622"/></g>
<g id="r31c2"><use href="#k" class="p" x="136" y="1622"/><use href="#wr" x="136" y="1622"/></g>
<g id="r31c3"><use href="#k" class="p" x="188" y="1622"/><use href="#wr" x="188" y="1622"/></g>
<g id="r31c4"><use href="#k" class="p" x="240" y="1622"/><use href="#wr" x="240" y="1622"/></g>
<g id="r31c5"><use href="#k" class="p" x="292" y="1622"/><use href="#wr" x="292" y="1622"/></g>
<g id="r31c6"><use href="#k" class="p" x="344" y="1622"/><use href="#wr" x="344" y="1622"/></g>
<g id="r31c7"><use href="#k" class="p" x="396" y="1622"/><use href="#wr" x="396" y="1622"/></g>
<g id="r31c8"><use href="#k" class="p" x="448" y="1622"/><use href="#wr" x="448" y="1622"/></g>
<g id="r32c1"><use href="#k" class="p" x="84" y="1674"/><use href="#wl" x="84" y="1674"/></g>
<g id="r32c2"><use href="#k" class="p" x="136" y="1674"/><use href="#wl" x="136" y="1674"/></g>
<g id="r32c3"><use href="#k" class="p" x="188" y="1674"/><use href="#wl" x="188" y="1674"/></g>
<g id="r32c4"><use href="#k" class="p" x="240" y="1674"/><use href="#wl" x="240" y="1674"/></g>
<g id="r32c5"><use href="#k" class="p" x="292" y="1674"/><use href="#wl" x="292" y="1674"/></g>
<g id="r32c6"><use href="#k" class="p" x="344" y="1674"/><use href="#wl" x="344" y="1674"/></g>
<g id="r32c7"><use href="#k" class="p" x="396" y="1674"/><use href="#wl" x="396" y="1674"/></g>
<g id="r32c8"><use href="#k" class="p" x="448" y="1674"/><use href="#wl" x="448" y="1674"/></g>
<g id="r33c1"><use href="#k" class="p" x="84" y="1726"/><use href="#wr" x="84" y="1726"/></g>
<g id="r33c2"><use href="#k" class="p" x="136" y="1726"/><use href="#wr" x="136" y="1726"/></g>
<g id="r33c3"><use href="#k" class="p" x="188" y="1726"/><use href="#wr" x="188" y="1726"/></g>
<g id="r33c4"><use href="#k" class="p" x="240" y="1726"/><use href="#wr" x="240" y="1726"/></g>
<g id="r33c5"><use href="#k" class="p" x="292" y="1726"/><use href="#wr" x="292" y="1726"/></g>
<g id="r33c6"><use href="#k" class="p" x="344" y="1726"/><use href="#wr" x="344" y="1726"/></g>
<g id="r33c7"><use href="#k" class="p" x="396" y="1726"/><use href="#wr" x="396" y="1726"/></g>
<g id="r33c8"><use href="#k" class="p" x="448" y="1726"/><use href="#wr" x="448" y="1726"/></g>
<g id="r34c1"><use href="#k" class="p" x="84" y="1778"/><use href="#wl" x="84" y="1778"/></g>
<g id="r34c2"><use href="#k" class="p" x="136" y="1778"/><use href="#wl" x="136" y="1778"/></g>
<g id="r34c3"><use href="#k" class="p" x="188" y="1778"/><use href="#wl" x="188" y="1778"/></g>
<g id="r34c4"><use href="#k" class="p" x="240" y="1778"/><use href="#wl" x="240" y="1778"/></g>
<g id="r34c5"><use href="#k" class="p" x="292" y="1778"/><use href="#wl" x="292" y="1778"/></g>
<g id="r34c6"><use href="#k" class="p" x="344" y="1778"/><use href="#wl" x="344" y="1778"/></g>
<g id="r34c7"><use href="#k" class="p" x="396" y="1778"/><use href="#wl" x="396" y="1778"/></g>
<g id="r34c8"><use href="#k" class="p" x="448" y="1778"/><use href="#wl" x="448" y="1778"/></g>
</g>
<g id="watermark">
<rect x="187" y="911" width="158" height="16" fill="#fff" fill-opacity="0.55"/>
<text x="266" y="925" text-anchor="middle" font-family="Liberation Sans,Arial,sans-serif" font-weight="bold" font-size="14.2" fill="#333">BRACELETBOOK.COM</text>
</g>
<g id="rownumbers">
<text class="nl" x="21" y="66.5">1</text><text class="nr" x="511" y="66.5">1</text>
<text class="nl" x="21" y="118.5">2</text><text class="nr" x="511" y="118.5">2</text>
<text class="nl" x="21" y="170.5">3</text><text class="nr" x="511" y="170.5">3</text>
<text class="nl" x="21" y="222.5">4</text><text class="nr" x="511" y="222.5">4</text>
<text class="nl" x="21" y="274.5">5</text><text class="nr" x="511" y="274.5">5</text>
<text class="nl" x="21" y="326.5">6</text><text class="nr" x="511" y="326.5">6</text>
<text class="nl" x="21" y="378.5">7</text><text class="nr" x="511" y="378.5">7</text>
<text class="nl" x="21" y="430.5">8</text><text class="nr" x="511" y="430.5">8</text>
<text class="nl" x="21" y="482.5">9</text><text class="nr" x="511" y="482.5">9</text>
<text class="nl" x="21" y="534.5">10</text><text class="nr" x="511" y="534.5">10</text>
<text class="nl" x="21" y="586.5">11</text><text class="nr" x="511" y="586.5">11</text>
<text class="nl" x="21" y="638.5">12</text><text class="nr" x="511" y="638.5">12</text>
<text class="nl" x="21" y="690.5">13</text><text class="nr" x="511" y="690.5">13</text>
<text class="nl" x="21" y="742.5">14</text><text class="nr" x="511" y="742.5">14</text>
<text class="nl" x="21" y="794.5">15</text><text class="nr" x="511" y="794.5">15</text>
<text class="nl" x="21" y="846.5">16</text><text class="nr" x="511" y="846.5">16</text>
<text class="nl" x="21" y="898.5">17</text><text class="nr" x="511" y="898.5">17</text>
<text class="nl" x="21" y="950.5">18</text><text class="nr" x="511" y="950.5">18</text>
<text class="nl" x="21" y="1002.5">19</text><text class="nr" x="511" y="1002.5">19</text>
<text class="nl" x="21" y="1054.5">20</text><text class="nr" x="511" y="1054.5">20</text>
<text class="nl" x="21" y="1106.5">21</text><text class="nr" x="511" y="1106.5">21</text>
<text class="nl" x="21" y="1158.5">22</text><text class="nr" x="511" y="1158.5">22</text>
<text class="nl" x="21" y="1210.5">23</text><text class="nr" x="511" y="1210.5">23</text>
<text class="nl" x="21" y="1262.5">24</text><text class="nr" x="511" y="1262.5">24</text>
<text class="nl" x="21" y="1314.5">25</text><text class="nr" x="511" y="1314.5">25</text>
<text class="nl" x="21" y="1366.5">26</text><text class="nr" x="511" y="1366.5">26</text>
<text class="nl" x="21" y="1418.5">27</text><text class="nr" x="511" y="1418.5">27</text>
<text class="nl" x="21" y="1470.5">28</text><text class="nr" x="511" y="1470.5">28</text>
<text class="nl" x="21" y="1522.5">29</text><text class="nr" x="511" y="1522.5">29</text>
<text class="nl" x="21" y="1574.5">30</text><text class="nr" x="511" y="1574.5">30</text>
<text class="nl" x="21" y="1626.5">31</text><text class="nr" x="511" y="1626.5">31</text>
<text class="nl" x="21" y="1678.5">32</text><text class="nr" x="511" y="1678.5">32</text>
<text class="nl" x="21" y="1730.5">33</text><text class="nr" x="511" y="1730.5">33</text>
<text class="nl" x="21" y="1782.5">34</text><text class="nr" x="511" y="1782.5">34</text>
</g>
</svg>
